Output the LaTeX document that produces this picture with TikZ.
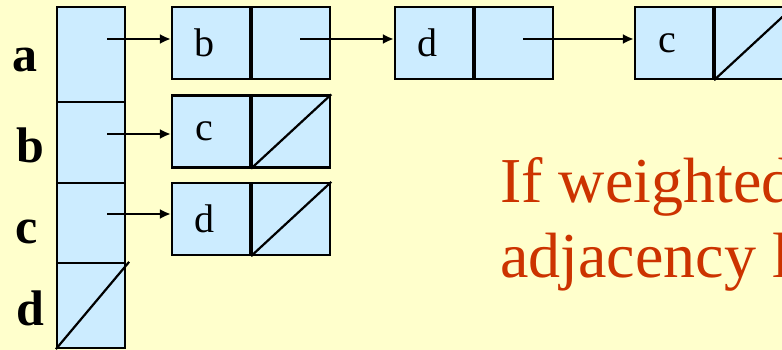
\documentclass[tikz,border=0pt]{standalone}
\usepackage{fontspec}
\setmainfont{Liberation Serif}
\usetikzlibrary{arrows.meta,positioning}
\definecolor{paper}{HTML}{FFFFCC}
\definecolor{cellblue}{HTML}{CCECFF}
\definecolor{notered}{HTML}{CC3300}
\tikzset{
  cell/.style={draw, fill=cellblue, line width=2.2pt, inner sep=0pt,
    minimum width=78pt, minimum height=72pt},
  slot/.style={draw, fill=cellblue, line width=2.2pt, inner sep=0pt,
    minimum width=68pt},
  link/.style={line width=2.2pt, -{Latex[length=11pt,width=10pt]}},
  nil/.style={line width=2.2pt},
  celltext/.style={font=\fontsize{40}{40}\selectfont},
  vlabel/.style={anchor=base, font=\fontsize{50}{50}\selectfont\bfseries},
  note/.style={anchor=base west, text=notered, inner sep=0pt,
    font=\fontsize{64}{64}\selectfont}
}
\begin{document}
\begin{tikzpicture}[x=1pt, y=-1pt]
  \useasboundingbox[fill=paper] (0,0) rectangle (782,350);
  % vertex array
  \node[slot, minimum height=95pt] (va) at (91,54.5) {};
  \node[slot, minimum height=81pt] (vb) at (91,142.5) {};
  \node[slot, minimum height=80pt] (vc) at (91,223) {};
  \node[slot, minimum height=85pt] (vd) at (91,305.5) {};
  \draw[nil] (vd.south west) -- ([xshift=3pt]vd.north east);
  \node[vlabel] (la) at (25,72) {a};
  \node[vlabel] (lb) at (30,163) {b};
  \node[vlabel] (lc) at (27,243) {c};
  \node[vlabel] (ld) at (30,325) {d};
  % list nodes: data cell, then pointer cell
  \foreach \n/\x/\y/\t in {ab/211/43/b, ad/434/43/d, ac/674/43/c, bc/211/131.5/c, cd/211/219/d} {
    \node[cell] (\n) at (\x,\y) {};
    \node[cell, right=0pt of \n] (\n p) {};
    \node[celltext, xshift=-7pt] at (\n) {\t};
  }
  % null pointers
  \foreach \n in {acp, bcp, cdp}
    \draw[nil] (\n.south west) -- (\n.north east);
  % links
  \coordinate (sa) at (107,39);
  \coordinate (sb) at (107,134);
  \coordinate (sc) at (107,214);
  \coordinate (sab) at (300,39);
  \coordinate (sad) at (523,39);
  \draw[link] (sa) -- (sa -| ab.west);
  \draw[link] (sb) -- (sb -| bc.west);
  \draw[link] (sc) -- (sc -| cd.west);
  \draw[link] (sab) -- (sab -| ad.west);
  \draw[link] (sad) -- (sad -| ac.west);
  % remark
  \node[note] (n1) at (500,202) {If weighted};
  \node[note] (n2) at (500,277) {adjacency l};
\end{tikzpicture}
\end{document}
